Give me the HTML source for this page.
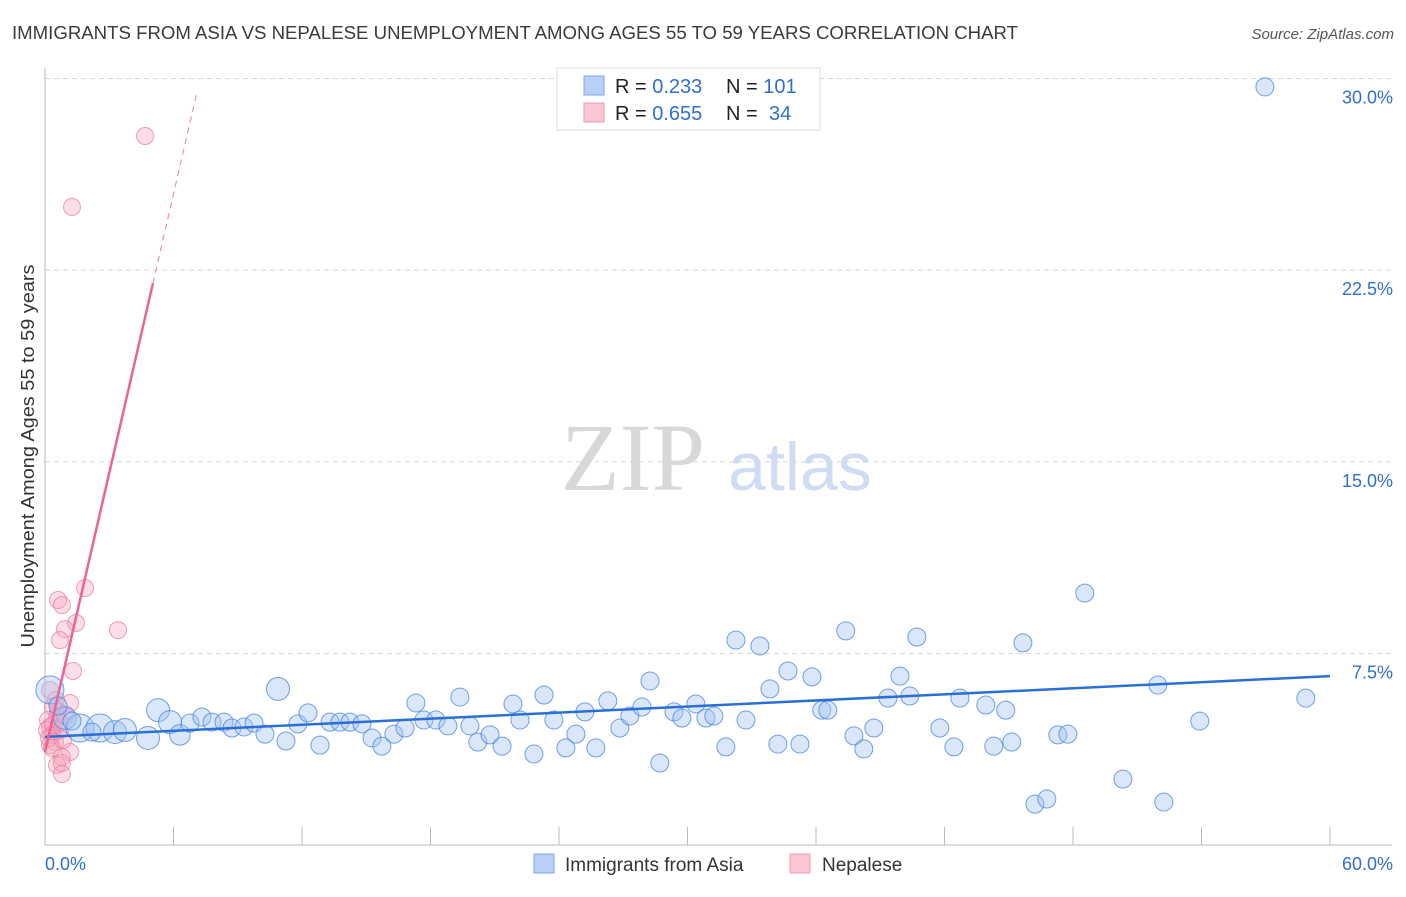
<!DOCTYPE html>
<html><head><meta charset="utf-8"><style>
body{margin:0;background:#fff;font-family:"Liberation Sans",sans-serif;}
</style></head><body>
<svg id="chart" width="1406" height="892" xmlns="http://www.w3.org/2000/svg">
<text x="12" y="39" font-size="18" fill="#3a3a3a" textLength="1006" lengthAdjust="spacingAndGlyphs">IMMIGRANTS FROM ASIA VS NEPALESE UNEMPLOYMENT AMONG AGES 55 TO 59 YEARS CORRELATION CHART</text>
<text x="1394" y="39" font-size="15" fill="#555" font-style="italic" text-anchor="end">Source: ZipAtlas.com</text>
<text x="633" y="490" font-size="96" fill="#d8d8d8" font-family="Liberation Serif,serif" text-anchor="middle">ZIP</text>
<text x="800" y="490" font-size="68" fill="#cfdcf3" text-anchor="middle">atlas</text>
<g id="grid"></g><g id="axes"></g><g id="pink"></g><g id="blue"></g><g id="lines"></g>
<text transform="translate(34,456) rotate(-90)" font-size="18" fill="#333" text-anchor="middle" textLength="383" lengthAdjust="spacingAndGlyphs">Unemployment Among Ages 55 to 59 years</text>
<g>
<rect x="557" y="68" width="263" height="62" fill="#fff" stroke="#ddd"/>
<rect x="584" y="76" width="20" height="19" fill="#b8d0f5" stroke="#7ea6e6"/>
<rect x="584" y="103" width="20" height="19" fill="#f9c6d4" stroke="#ee9ab3"/>
<text x="615" y="93" font-size="20" fill="#222">R = <tspan fill="#2f6fce">0.233</tspan><tspan x="726">N = </tspan><tspan fill="#2f6fce">101</tspan></text>
<text x="615" y="120" font-size="20" fill="#222">R = <tspan fill="#2f6fce">0.655</tspan><tspan x="726">N = </tspan><tspan fill="#2f6fce" x="769">34</tspan></text>
</g>
<g>
<rect x="534" y="854" width="20" height="19" fill="#b8d0f5" stroke="#7ea6e6"/>
<text x="565" y="871" font-size="19" fill="#333">Immigrants from Asia</text>
<rect x="790" y="854" width="20" height="19" fill="#f9c6d4" stroke="#ee9ab3"/>
<text x="822" y="871" font-size="19" fill="#333">Nepalese</text>
</g>
</svg>
<script>
const blueX=[0.23,0.93,1.63,2.57,3.27,3.73,4.81,5.28,5.84,6.30,6.77,7.33,7.80,8.36,8.73,9.29,9.76,10.27,10.88,11.25,11.81,12.28,12.84,13.31,13.77,14.24,14.80,15.27,15.73,16.29,16.81,17.32,17.69,18.25,18.81,19.37,19.84,20.21,20.78,21.34,21.85,22.18,22.83,23.30,23.76,24.32,24.79,25.21,25.72,26.28,26.84,27.31,27.87,28.25,28.71,29.37,29.74,30.39,30.86,31.23,31.79,32.26,32.73,33.38,33.85,34.22,34.69,35.25,35.81,36.27,36.55,37.39,37.77,38.23,38.70,39.36,39.92,40.38,40.71,41.78,42.44,42.72,43.93,44.30,44.86,45.14,45.66,46.22,46.78,47.29,47.76,48.55,50.33,51.96,52.24,53.92,56.96,58.87,0.61,1.26,2.19];
const blueY=[6.07,4.97,4.58,4.58,4.42,4.50,4.19,5.28,4.81,4.31,4.77,5.01,4.81,4.81,4.58,4.62,4.77,4.34,6.11,4.07,4.74,5.17,3.91,4.81,4.81,4.81,4.74,4.19,3.87,4.34,4.58,5.56,4.89,4.89,4.66,5.79,4.66,4.03,4.31,3.87,5.52,4.89,3.56,5.87,4.89,3.80,4.34,5.21,3.80,5.64,4.58,5.05,5.40,6.42,3.21,5.21,4.97,5.52,4.97,5.05,3.84,8.02,4.89,7.79,6.11,3.95,6.81,3.95,6.58,5.28,5.28,8.38,4.27,3.76,4.58,5.75,6.61,5.83,8.14,4.58,3.84,5.75,5.48,3.87,5.28,4.03,7.91,1.60,1.80,4.31,4.34,9.86,2.58,6.26,1.68,4.85,29.67,5.75,5.44,4.85,4.42];
const blueWeight=[3,2,3,3,2,2,2,2,2,1.5,1,1,1,1,1,1,1,1,2];
const pinkX=[0.61,0.79,1.87,1.45,0.93,0.70,3.41,1.31,0.23,1.17,0.37,0.56,0.23,0.70,1.17,0.79,0.56,0.79,0.79,4.67,1.26,0.14,0.33,0.47,0.23,0.61,0.09,0.37,0.70,0.19,0.93,0.51,0.33,0.84];
const pinkY=[9.59,9.39,10.06,8.69,8.45,8.02,8.41,6.81,6.07,5.56,5.40,5.01,4.62,4.50,3.64,3.44,3.13,3.21,2.78,27.75,24.97,4.89,4.31,4.03,3.91,5.21,4.50,4.70,4.81,4.19,5.05,5.68,3.80,4.11];
const blueTrend=[4.23,6.61];
const pinkTrend={intercept:3.64,slope:3.64,solidEnd:5.04,dashEnd:7.1};
const xTicks=[0,6,12,18,24,30,36,42,48,54,60];
const yTicks=[7.5,15,22.5,30];
const yTickLabels=["7.5%","15.0%","22.5%","30.0%"];
const NS="http://www.w3.org/2000/svg";
const X=v=>45+v*1285/60, Y=v=>845-v*25.55;
function mk(t,a,p){const e=document.createElementNS(NS,t);for(const k in a)e.setAttribute(k,a[k]);document.getElementById(p).appendChild(e);return e;}
yTicks.forEach((t,i)=>{
 const g=mk('line',{x1:45,x2:1392,y1:Y(t),y2:Y(t),stroke:'#d8d8d8','stroke-dasharray':'5,4'},'grid');
 
 
 const l=mk('text',{x:1393,y:Y(t)+25,'font-size':18,fill:'#2f6fce','text-anchor':'end'},'axes');l.textContent=yTickLabels[i];
 
 
});
const ya=mk('line',{x1:45,x2:45,y1:68,y2:845,stroke:'#bbb'},'axes');


const xa=mk('line',{x1:45,x2:1392,y1:845,y2:845,stroke:'#bbb'},'axes');


xTicks.forEach(t=>{const k=mk('line',{x1:X(t),x2:X(t),y1:827,y2:845,stroke:'#bbb'},'axes');
 
 });
[[0,'0.0%','start',45],[60,'60.0%','end',1393]].forEach(d=>{const l=mk('text',{x:d[3],y:870,'font-size':18,fill:'#2f6fce','text-anchor':d[2]},'axes');l.textContent=d[1];
 
 });
pinkX.forEach((x,i)=>{const c=mk('circle',{cx:X(x),cy:Y(pinkY[i]),r:8.5,fill:'rgba(246,160,186,0.35)',stroke:'rgba(236,120,155,0.7)','stroke-width':1},'pink');
 
 });
blueX.forEach((x,i)=>{const w=blueWeight[i]||1;const c=mk('circle',{cx:X(x),cy:Y(blueY[i]),r:9+(w-1)*2.5,fill:'rgba(160,194,240,0.4)',stroke:'rgba(70,130,220,0.75)','stroke-width':1},'blue');
 
 });
const bl=mk('line',{x1:X(0),y1:Y(blueTrend[0]),x2:X(60),y2:Y(blueTrend[1]),stroke:'#2a6fd6','stroke-width':2.5},'lines');


const pf=v=>pinkTrend.intercept+pinkTrend.slope*v;
const pl=mk('line',{x1:X(0),y1:Y(pf(0)),x2:X(pinkTrend.solidEnd),y2:Y(pf(pinkTrend.solidEnd)),stroke:'#e8649a','stroke-width':2.5},'lines');


const pd=mk('line',{x1:X(pinkTrend.solidEnd),y1:Y(pf(pinkTrend.solidEnd)),x2:X(pinkTrend.dashEnd),y2:Y(pf(pinkTrend.dashEnd)),stroke:'#eb8fb3','stroke-width':1.2,'stroke-dasharray':'6,5'},'lines');


</script>
</body></html>
